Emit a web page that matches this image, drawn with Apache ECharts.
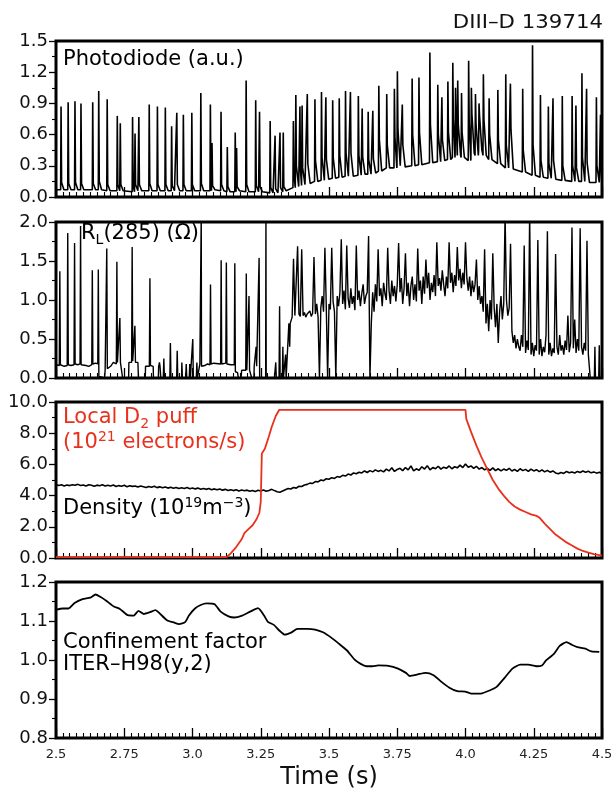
<!DOCTYPE html>
<html><head><meta charset="utf-8">
<script src="https://cdn.jsdelivr.net/npm/echarts@6/dist/echarts.min.js"></script>
<style>html,body{margin:0;padding:0;background:#fff}#c{width:616px;height:793px}</style>
</head><body><div id="c"></div>
<script>
// ---- tick labels / axis ranges ----
const xTickLabels = ['2.5','2.75','3.0','3.25','3.5','3.75','4.0','4.25','4.5'];
const yMins = [0, 0, 0, 0.8];
const yMaxs = [1.5, 2.0, 10, 1.2];
const yIntervals = [0.3, 0.5, 2, 0.1];

// ---- Panel 1: photodiode spikes (time, peak, level just after the peak, baseline) ----
const pdT = [2.517,2.543,2.568,2.590,2.633,2.655,2.686,2.723,2.734,2.779,2.788,2.802,2.840,2.870,2.899,2.922,2.941,2.965,2.996,3.029,3.064,3.070,3.103,3.126,3.155,3.160,3.195,3.230,3.244,3.283,3.301,3.319,3.331,3.368,3.377,3.392,3.400,3.419,3.447,3.471,3.487,3.512,3.536,3.559,3.577,3.606,3.620,3.642,3.659,3.681,3.710,3.738,3.749,3.767,3.803,3.828,3.868,3.897,3.912,3.934,3.952,3.962,3.970,3.984,4.010,4.020,4.035,4.048,4.064,4.085,4.117,4.146,4.163,4.208,4.244,4.273,4.302,4.319,4.353,4.389,4.403,4.425,4.442,4.478,4.493];
const pdPeak = [0.87,0.91,0.92,0.90,0.91,1.02,0.94,0.78,0.71,0.77,0.61,0.77,0.89,0.87,0.86,0.68,0.81,0.79,0.81,1.00,0.89,0.52,0.82,0.48,0.62,0.47,1.12,0.93,0.82,0.73,0.59,0.62,0.62,0.73,0.98,0.87,0.88,0.99,0.94,1.01,0.96,0.93,0.95,1.02,1.01,0.97,0.85,0.82,0.83,1.07,0.99,1.04,1.21,0.89,1.14,1.15,1.39,1.08,0.96,1.11,1.29,1.05,1.12,1.00,1.31,1.05,0.99,0.90,1.18,0.95,1.03,1.18,1.09,1.04,1.46,0.98,0.87,0.95,0.97,0.97,0.88,1.19,1.04,0.96,0.79];
const pdDecay = [0.14,0.13,0.14,0.13,0.13,0.15,0.12,0.12,0.12,0.11,0.12,0.12,0.13,0.12,0.12,0.11,0.12,0.12,0.12,0.13,0.12,0.11,0.12,0.10,0.10,0.10,0.12,0.11,0.10,0.09,0.08,0.09,0.10,0.22,0.30,0.26,0.28,0.32,0.35,0.38,0.36,0.38,0.40,0.42,0.42,0.40,0.38,0.36,0.37,0.55,0.50,0.58,0.65,0.50,0.60,0.62,0.70,0.60,0.55,0.62,0.75,0.80,0.70,0.62,0.72,0.80,0.70,0.78,0.75,0.60,0.55,0.50,0.65,0.45,0.50,0.35,0.32,0.35,0.30,0.30,0.28,0.38,0.33,0.30,0.25];
const pdBase = [0.07,0.07,0.07,0.07,0.07,0.07,0.06,0.06,0.06,0.05,0.06,0.06,0.06,0.06,0.06,0.06,0.06,0.06,0.06,0.06,0.06,0.07,0.06,0.05,0.05,0.06,0.05,0.05,0.05,0.04,0.04,0.05,0.06,0.09,0.10,0.11,0.12,0.13,0.15,0.16,0.17,0.18,0.19,0.20,0.20,0.21,0.22,0.22,0.23,0.25,0.28,0.28,0.30,0.29,0.30,0.31,0.33,0.34,0.35,0.36,0.38,0.42,0.40,0.38,0.35,0.42,0.40,0.45,0.40,0.36,0.32,0.28,0.27,0.24,0.21,0.19,0.18,0.17,0.16,0.15,0.15,0.15,0.14,0.14,0.14];

// ---- Panel 2: R_L(285) ----
const rlEarly = [[2.500,0.17],[2.512,0.16],[2.514,1.37],[2.516,0.17],[2.530,0.15],[2.541,0.16],[2.543,1.86],[2.545,0.17],[2.555,0.16],[2.566,0.17],[2.568,1.73],[2.570,0.18],[2.580,0.17],[2.588,0.18],[2.590,1.95],[2.592,0.17],[2.610,0.16],[2.620,0.15],[2.631,0.17],[2.633,1.38],[2.635,0.18],[2.645,0.19],[2.653,0.18],[2.655,1.39],[2.657,0.02],[2.660,0.0],[2.678,0.0],[2.680,0.1],[2.684,0.1],[2.686,1.66],[2.688,0.12],[2.700,0.15],[2.710,0.2],[2.721,0.18],[2.723,1.49],[2.725,0.2],[2.732,0.2],[2.734,0.77],[2.736,0.2],[2.743,0.2],[2.744,0.0],[2.766,0.0],[2.767,0.2],[2.777,0.2],[2.779,1.68],[2.781,0.22],[2.787,0.2],[2.789,0.67],[2.791,0.2],[2.800,0.2],[2.802,0.0],[2.827,0.0],[2.828,0.15],[2.842,0.15],[2.844,1.28],[2.846,0.16],[2.856,0.15],[2.857,0.0],[2.875,0.0],[2.876,0.15],[2.879,0.2],[2.881,0.15],[2.884,0.0],[2.893,0.0],[2.895,0.25],[2.897,0.0],[2.917,0.0],[2.919,0.45],[2.921,0.0],[2.942,0.0],[2.944,0.35],[2.946,0.0],[2.960,0.0],[2.961,0.2],[2.963,0.0],[2.975,0.0],[2.977,0.18],[2.979,0.0],[2.988,0.0],[2.990,0.18],[2.992,0.0],[2.999,0.0],[3.001,0.5],[3.003,0.0],[3.014,0.0],[3.016,0.2],[3.018,0.0],[3.025,0.0],[3.027,0.18],[3.031,0.18],[3.032,2.1],[3.033,0.15],[3.045,0.16],[3.055,0.18],[3.064,0.17],[3.066,1.2],[3.068,0.18],[3.078,0.19],[3.103,0.18],[3.105,1.51],[3.107,0.18],[3.122,0.19],[3.124,1.48],[3.126,0.18],[3.140,0.17],[3.153,0.17],[3.155,1.47],[3.157,0.08],[3.165,0.07],[3.168,0.0],[3.178,0.0],[3.180,0.1],[3.195,0.1],[3.197,1.34],[3.199,0.1],[3.205,0.1],[3.207,1.05],[3.209,0.1],[3.215,0.1],[3.217,0.0],[3.225,0.0],[3.226,0.15],[3.231,0.15],[3.233,0.4],[3.235,0.15],[3.242,0.15],[3.244,1.54],[3.246,0.0],[3.268,0.0],[3.269,2.1],[3.270,0.0],[3.300,0.0],[3.305,0.2],[3.307,0.0],[3.317,0.0],[3.319,0.92],[3.321,0.0],[3.329,0.0],[3.331,0.4],[3.333,0.0],[3.339,0.0],[3.341,0.3],[3.343,0.0],[3.350,0.0],[3.353,0.7],[3.356,0.4],[3.358,0.7]];
const rlNoiseStart = 3.36;
const rlNoiseStep = 0.005;
const rlNoise = [
0.72,0.78,1.53,0.80,0.78,1.69,0.82,0.79,1.65,0.80,
0.84,0.78,0.82,0.80,0.86,0.79,0.83,1.55,0.82,0.95,
0.78,0.00,0.90,1.05,0.85,1.67,0.92,0.00,0.95,0.88,
1.67,0.98,0.85,0.00,1.05,0.92,1.10,1.78,0.95,1.12,
0.88,1.70,1.02,0.90,1.15,0.95,1.05,0.87,1.70,1.00,
1.12,0.92,1.08,1.20,0.95,1.05,1.10,1.82,0.00,0.70,
1.10,0.85,1.20,0.98,1.65,1.05,1.15,0.92,1.22,1.08,
1.00,1.67,1.12,0.95,1.25,1.05,1.18,0.98,1.20,1.73,
1.10,1.28,0.95,1.15,1.60,1.05,1.22,0.92,1.18,1.30,
1.00,1.20,0.98,1.66,1.12,1.25,0.95,1.30,1.08,1.52,
1.15,1.35,1.00,1.22,1.10,1.32,1.05,1.74,1.18,1.28,
1.12,1.38,1.20,1.05,1.30,1.15,1.74,1.22,1.35,1.10,
1.32,1.18,1.68,1.25,1.40,1.15,1.35,1.20,1.74,1.28,
1.12,1.30,1.05,1.25,1.10,1.20,1.52,1.00,1.18,0.95,
1.05,0.85,1.65,0.70,0.95,0.60,1.00,0.75,1.60,0.90,
0.65,0.95,0.45,0.85,1.05,0.75,0.95,2.10,1.00,0.80,
0.90,1.72,0.60,0.45,0.55,0.38,0.50,0.40,0.35,0.55,
0.40,1.70,0.32,0.48,0.36,2.10,0.30,0.45,0.28,0.42,
0.35,1.77,0.30,0.50,0.28,0.40,0.33,0.55,1.88,0.30,
0.45,0.28,0.38,0.32,1.59,0.40,0.30,0.55,0.35,0.42,
0.30,0.48,0.36,0.80,0.33,0.45,1.93,0.38,0.75,0.32,
0.50,0.35,1.92,0.40,0.30,0.45,0.35,1.76,0.30,0.28];
const rlTail = [[4.457,0.0],[4.472,0.0],[4.474,0.4],[4.476,0.0],[4.488,0.0],[4.490,0.42],[4.492,0.0],[4.5,0.0]];

// ---- Panel 3: density (every 0.01 s from 2.5) and D2 puff ----
const densStart = 2.5;
const densStep = 0.01;
const density = [
4.72,4.65,4.70,4.62,4.68,4.64,4.70,4.66,4.72,4.65,
4.68,4.62,4.70,4.66,4.60,4.67,4.63,4.69,4.61,4.66,
4.62,4.68,4.58,4.64,4.60,4.66,4.57,4.63,4.59,4.62,
4.55,4.61,4.57,4.52,4.59,4.54,4.60,4.51,4.56,4.50,
4.55,4.48,4.53,4.47,4.52,4.45,4.50,4.46,4.52,4.44,
4.49,4.43,4.48,4.41,4.46,4.40,4.45,4.38,4.43,4.37,
4.42,4.35,4.40,4.33,4.38,4.32,4.37,4.30,4.36,4.31,
4.35,4.28,4.33,4.27,4.34,4.30,4.36,4.28,4.33,4.40,
4.32,4.25,4.22,4.30,4.38,4.45,4.42,4.52,4.48,4.60,
4.58,4.68,4.72,4.80,4.78,4.90,4.88,5.00,4.96,5.08,
5.05,5.15,5.10,5.22,5.18,5.30,5.25,5.38,5.32,5.45,
5.40,5.50,5.45,5.58,5.48,5.60,5.52,5.65,5.55,5.62,
5.52,5.70,5.58,5.78,5.55,5.68,5.75,5.60,5.80,5.65,
5.90,5.58,5.72,5.62,5.85,5.70,5.92,5.65,5.80,5.72,
5.88,5.70,5.82,5.75,5.90,5.72,5.85,5.78,5.95,5.80,
6.02,5.82,5.90,5.75,5.88,5.70,5.80,5.65,5.75,5.62,
5.78,5.60,5.72,5.58,5.70,5.62,5.75,5.58,5.68,5.55,
5.72,5.60,5.68,5.55,5.70,5.58,5.66,5.54,5.65,5.52,
5.62,5.50,5.58,5.45,5.40,5.48,5.42,5.55,5.46,5.52,
5.45,5.55,5.48,5.58,5.50,5.56,5.46,5.52,5.44,5.50,
5.42];
const puff = [[2.5,0.05],[3.124,0.05],[3.14,0.3],[3.16,0.7],[3.18,1.2],[3.19,1.6],[3.205,1.85],[3.22,2.1],[3.235,2.5],[3.245,2.9],[3.25,3.6],[3.254,6.7],[3.265,7.0],[3.28,7.8],[3.29,8.4],[3.305,9.1],[3.318,9.5],[4.0,9.5],[4.003,8.9],[4.02,8.1],[4.04,7.2],[4.06,6.4],[4.08,5.7],[4.1,5.0],[4.12,4.45],[4.14,4.0],[4.16,3.6],[4.18,3.3],[4.2,3.1],[4.22,2.95],[4.24,2.8],[4.26,2.7],[4.27,2.6],[4.29,2.2],[4.31,1.85],[4.33,1.5],[4.35,1.25],[4.37,1.0],[4.39,0.8],[4.41,0.6],[4.43,0.45],[4.45,0.35],[4.47,0.25],[4.5,0.15]];

// ---- Panel 4: confinement factor ----
const confT = [2.500,2.525,2.546,2.568,2.597,2.626,2.645,2.662,2.684,2.712,2.734,2.763,2.785,2.802,2.821,2.842,2.864,2.879,2.908,2.929,2.951,2.973,2.987,3.009,3.030,3.052,3.081,3.103,3.132,3.153,3.182,3.211,3.240,3.262,3.276,3.298,3.319,3.338,3.363,3.384,3.421,3.449,3.478,3.507,3.536,3.565,3.594,3.616,3.637,3.659,3.681,3.717,3.753,3.782,3.796,3.825,3.854,3.883,3.912,3.941,3.970,3.999,4.020,4.056,4.092,4.114,4.143,4.172,4.201,4.230,4.259,4.280,4.295,4.324,4.345,4.370,4.389,4.410,4.439,4.461,4.490];
const confV = [1.129,1.132,1.132,1.146,1.156,1.160,1.168,1.162,1.152,1.137,1.131,1.115,1.114,1.126,1.118,1.122,1.128,1.120,1.101,1.097,1.092,1.097,1.114,1.132,1.141,1.145,1.143,1.124,1.112,1.109,1.114,1.124,1.133,1.114,1.098,1.090,1.075,1.065,1.071,1.080,1.080,1.078,1.071,1.058,1.042,1.025,1.001,0.990,0.984,0.984,0.986,0.985,0.978,0.967,0.959,0.963,0.967,0.961,0.944,0.929,0.920,0.919,0.914,0.914,0.923,0.931,0.954,0.978,0.988,0.988,0.984,0.986,0.999,1.016,1.036,1.046,1.039,1.033,1.029,1.022,1.021];

// ---- build series data ----
const pdData = [[2.5, pdBase[0]]];
pdT.forEach((t, i) => {
  const next = i + 1 < pdT.length ? pdT[i + 1] : 4.5;
  pdData.push([t, pdBase[i]], [t + 0.0015, pdPeak[i]], [t + 0.0035, pdDecay[i]]);
  const settle = Math.min(t + 0.012, next - 0.0005);
  if (settle > t + 0.0035) pdData.push([settle, pdBase[i]]);
});
pdData.push([4.5, pdBase[pdBase.length - 1]]);

const rlData = rlEarly.slice();
rlNoise.forEach((v, i) => rlData.push([rlNoiseStart + i * rlNoiseStep, v]));
rlTail.forEach(p => rlData.push(p));

const densData = density.map((v, i) => [densStart + i * densStep, v]);
const confData = confT.map((t, i) => [t, confV[i]]);

const FONT = 'DejaVu Sans';
const RED = '#e8311c';
const tops = [41, 222, 402, 582];

const chart = echarts.init(document.getElementById('c'), null, {renderer: 'canvas'});
const option = {
  animation: false,
  backgroundColor: '#fff',
  grid: tops.map(t => ({left: 56, width: 546, top: t, height: 156, show: true,
    borderColor: '#000', borderWidth: 3, backgroundColor: 'rgba(0,0,0,0)', containLabel: false})),
  xAxis: tops.map((t, i) => ({
    gridIndex: i, type: 'value', min: 2.5, max: 4.5, interval: 0.25,
    axisLine: {show: false},
    axisTick: {show: true, inside: true, length: 10, lineStyle: {color: '#000', width: 1.3}},
    minorTick: {show: true, splitNumber: 10, length: 5, lineStyle: {color: '#000', width: 1.1}},
    splitLine: {show: false}, minorSplitLine: {show: false},
    axisLabel: {show: i === 3, fontFamily: FONT, fontSize: 13, color: '#222', margin: 10,
      formatter: v => xTickLabels[Math.round((v - 2.5) / 0.25)]}
  })),
  yAxis: tops.map((t, i) => ({
    gridIndex: i, type: 'value', min: yMins[i], max: yMaxs[i], interval: yIntervals[i],
    axisLine: {show: false},
    axisTick: {show: true, inside: false, length: 7, lineStyle: {color: '#000', width: 1.3}},
    minorTick: {show: true, splitNumber: 2, length: 4, lineStyle: {color: '#000', width: 1.1}},
    splitLine: {show: false}, minorSplitLine: {show: false},
    axisLabel: {fontFamily: FONT, fontSize: 18, color: '#111', margin: 8,
      formatter: v => v.toFixed(1)}
  })),
  series: [
    {type: 'line', xAxisIndex: 0, yAxisIndex: 0, data: pdData, symbol: 'none', clip: true,
      lineStyle: {color: '#000', width: 1.6}},
    {type: 'line', xAxisIndex: 1, yAxisIndex: 1, data: rlData, symbol: 'none', clip: true,
      lineStyle: {color: '#000', width: 1.4}},
    {type: 'line', xAxisIndex: 2, yAxisIndex: 2, data: densData, symbol: 'none', clip: true,
      lineStyle: {color: '#000', width: 1.6}},
    {type: 'line', xAxisIndex: 2, yAxisIndex: 2, data: puff, symbol: 'none', clip: true,
      lineStyle: {color: RED, width: 1.8}},
    {type: 'line', xAxisIndex: 3, yAxisIndex: 3, data: confData, symbol: 'none', clip: true, smooth: 0.2,
      lineStyle: {color: '#000', width: 1.8}}
  ],
  graphic: [
    {type: 'text', x: 603, y: 23, scaleX: 1.12, style: {text: 'DIII\u2013D 139714', fontFamily: FONT, fontSize: 19, fill: '#111', align: 'right', verticalAlign: 'middle'}},
    {type: 'text', x: 63, y: 60, z: 100, style: {text: 'Photodiode (a.u.)', fontFamily: FONT, fontSize: 21, fill: '#000', verticalAlign: 'middle'}},
    {type: 'text', x: 81, y: 234, z: 100, style: {text: '{a|R}{s|L}{a|(285) (\u03A9)}', fontFamily: FONT, fill: '#000', verticalAlign: 'middle',
      rich: {a: {fontFamily: FONT, fontSize: 21, lineHeight: 26, fill: '#000'}, s: {fontFamily: FONT, fontSize: 14, lineHeight: 14, verticalAlign: 'bottom', fill: '#000'}}}},
    {type: 'text', x: 63, y: 418, z: 100, style: {text: '{a|Local D}{s|2}{a| puff}', fontFamily: FONT, fill: RED, verticalAlign: 'middle',
      rich: {a: {fontFamily: FONT, fontSize: 21, lineHeight: 26, fill: RED}, s: {fontFamily: FONT, fontSize: 14, lineHeight: 14, verticalAlign: 'bottom', fill: RED}}}},
    {type: 'text', x: 63, y: 443, z: 100, style: {text: '{a|(10}{p|21}{a| electrons/s)}', fontFamily: FONT, fill: RED, verticalAlign: 'middle',
      rich: {a: {fontFamily: FONT, fontSize: 21, lineHeight: 26, fill: RED}, p: {fontFamily: FONT, fontSize: 14, lineHeight: 14, verticalAlign: 'top', fill: RED}}}},
    {type: 'text', x: 63, y: 509, z: 100, style: {text: '{a|Density (10}{p|19}{a|m}{p|\u22123}{a|)}', fontFamily: FONT, fill: '#000', verticalAlign: 'middle',
      rich: {a: {fontFamily: FONT, fontSize: 21, lineHeight: 26, fill: '#000'}, p: {fontFamily: FONT, fontSize: 14, lineHeight: 14, verticalAlign: 'top', fill: '#000'}}}},
    {type: 'text', x: 63, y: 643, z: 100, style: {text: 'Confinement factor', fontFamily: FONT, fontSize: 21, fill: '#000', verticalAlign: 'middle'}},
    {type: 'text', x: 63, y: 665, z: 100, style: {text: 'ITER\u2013H98(y,2)', fontFamily: FONT, fontSize: 21, fill: '#000', verticalAlign: 'middle'}},
    {type: 'text', x: 329, y: 778, style: {text: 'Time (s)', fontFamily: FONT, fontSize: 24, fill: '#111', align: 'center', verticalAlign: 'middle'}}
  ]
};
chart.setOption(option);
</script>
</body></html>
